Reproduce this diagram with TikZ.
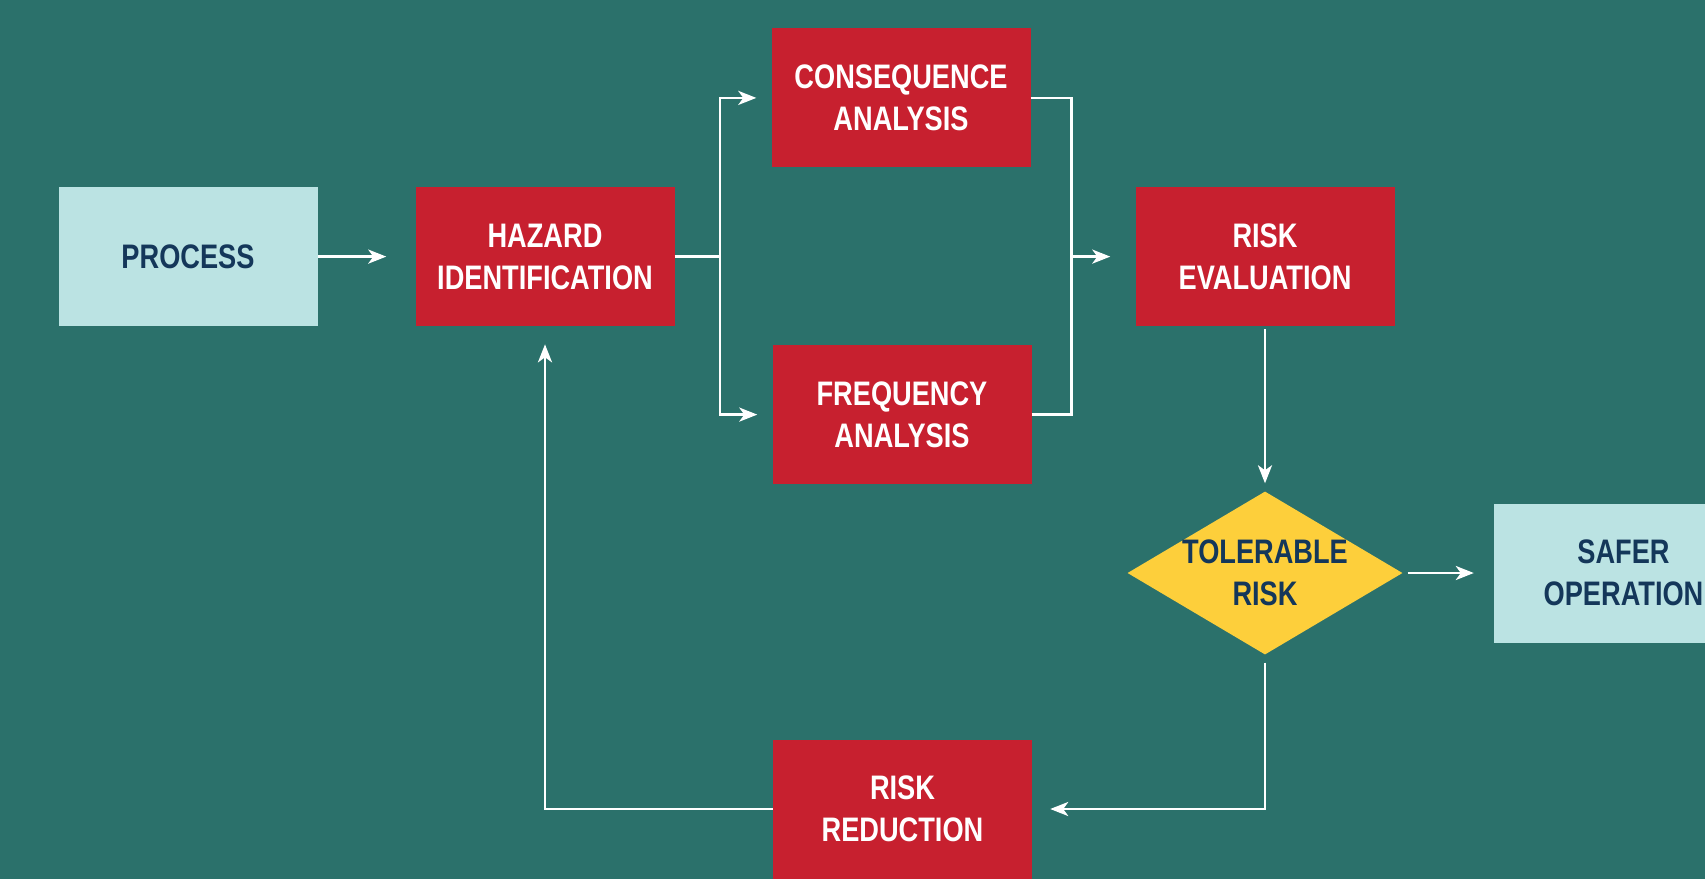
\documentclass[tikz,border=0pt]{standalone}
\usepackage{fontspec}
\setmainfont{Liberation Sans}[FakeStretch=0.8]
\usetikzlibrary{arrows.meta,shapes.geometric}

\definecolor{bgteal}{HTML}{2B716B}
\definecolor{boxred}{HTML}{C7202F}
\definecolor{boxcyan}{HTML}{BBE3E3}
\definecolor{decyellow}{HTML}{FDCF3B}
\definecolor{navy}{HTML}{14375A}

\tikzset{
  label font/.style={font=\fontsize{34}{42}\selectfont\bfseries, align=center},
  stepbox/.style={rectangle, fill=boxred, text=white, label font,
    minimum width=259pt, minimum height=139pt, inner sep=0pt},
  endbox/.style={rectangle, fill=boxcyan, text=navy, label font,
    minimum width=259pt, minimum height=139pt, inner sep=0pt},
  decision/.style={diamond, fill=decyellow, minimum width=275pt,
    minimum height=163pt, inner sep=0pt},
  wire/.style={draw=white, line width=2.8pt},
  flow/.style={wire, -{Stealth[length=18pt, width=14pt, inset=5pt]}},
}

\begin{document}
\begin{tikzpicture}[x=1pt, y=-1pt]
  % canvas
  \useasboundingbox (0,0) rectangle (1705,879);
  \clip (0,0) rectangle (1705,879);
  \fill[bgteal] (0,0) rectangle (1705,879);

  % boxes
  \node[endbox]  (proc) at (188,256.6)  {PROCESS};
  \node[stepbox] (haz)  at (545,256.6)  {HAZARD\\IDENTIFICATION};
  \node[stepbox] (cons) at (901,97.9)   {CONSEQUENCE\\ANALYSIS};
  \node[stepbox] (freq) at (902,414.6)  {FREQUENCY\\ANALYSIS};
  \node[stepbox] (eval) at (1265,256.6) {RISK\\EVALUATION};
  \node[decision] (dia) at (1265,573) {};
  \node[label font, text=navy] (diatext) at (dia) {TOLERABLE\\RISK};
  \node[endbox]  (safe) at (1623.5,573) {SAFER\\OPERATION};
  \node[stepbox] (red)  at (902.5,809)  {RISK\\REDUCTION};

  % branch and merge points
  \coordinate (split) at (719.9,256.6);
  \coordinate (merge) at (1071.1,256.6);

  % connectors
  \draw[flow, shorten >=29pt] (proc.east) -- (haz.west);
  \draw[wire] (haz.east) -- (split);
  \draw[flow, shorten >=15pt] (split) |- (cons.west);
  \draw[flow, shorten >=15pt] (split) |- (freq.west);
  \draw[wire] (cons.east) -| (merge);
  \draw[wire] (freq.east) -| (merge);
  \draw[flow, shorten >=25pt] (merge) -- (eval.west);
  \draw[flow, shorten <=3pt, shorten >=8pt] (eval.south) -- (dia.north);
  \draw[flow, shorten <=5pt, shorten >=20pt] (dia.east) -- (safe.west);
  \draw[flow, shorten <=8pt, shorten >=18pt] (dia.south) |- (red.east);
  \draw[flow, shorten >=18pt] (red.west) -| (haz.south);
\end{tikzpicture}
\end{document}
